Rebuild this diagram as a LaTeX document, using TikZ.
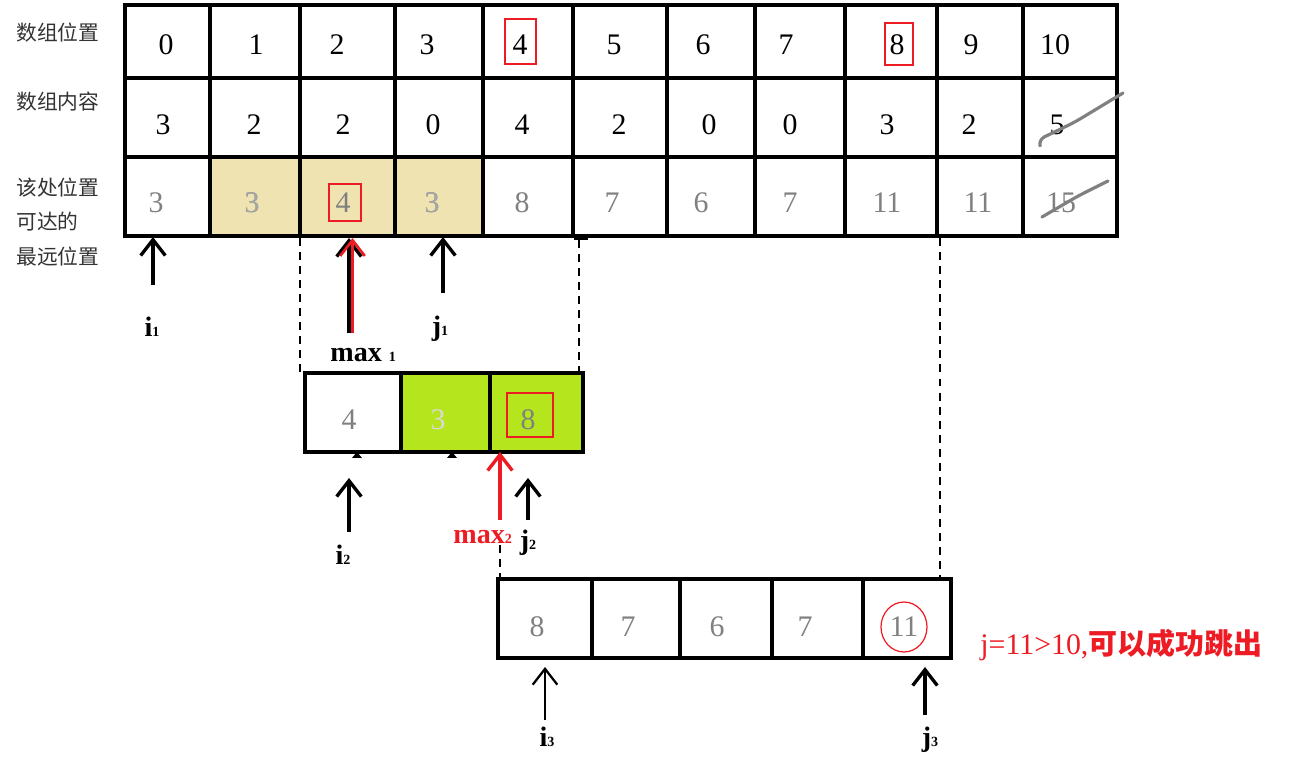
\documentclass[tikz,border=0pt]{standalone}
\usepackage{fontspec}
\setmainfont{Liberation Serif}
\newfontfamily\cjk{Noto Sans CJK SC}
\usetikzlibrary{arrows.meta,positioning}

\definecolor{markred}{HTML}{ED1C24}
\definecolor{sand}{HTML}{EFE3B1}
\definecolor{limefill}{HTML}{B5E61D}

\newcommand\ptrname[2]{\textbf{#1}{\fontsize{8}{8}\selectfont\bfseries #2}}

\tikzset{
	cell/.style={
			draw,
			line width=2.2pt,
		},
	num/.style={
			font=\fontsize{17}{17}\selectfont,
			inner sep=0pt,
		},
	reach/.style={
			num,
			text=black!50,
		},
	ghost/.style={
			num,
			text=black!35,
		},
	rowlab/.style={
			font=\cjk\fontsize{11.8}{12}\selectfont,
			text=black!80,
			anchor=west,
			inner sep=0pt,
		},
	ptrlab/.style={
			font=\fontsize{16}{16}\selectfont,
			inner sep=0pt,
		},
	ptr/.style={
			-{Straight Barb[length=9pt,width=14pt]},
			line width=1.9pt,
			shorten <=#1,
		},
	hit/.style={
			draw=markred,
			line width=1.6pt,
		},
	thinhit/.style={
			draw=markred,
			line width=0.6pt,
		},
	guide/.style={
			dash pattern=on 4.5pt off 3.5pt,
			line width=0.6pt,
		},
	strike/.style={
			draw=black!50,
			line width=1.8pt,
			line cap=round,
			rounded corners=4pt,
		},
}

\begin{document}
\begin{tikzpicture}[x=0.02cm, y=-0.02cm]
	\useasboundingbox (0,0) rectangle (1296,759);

	% row labels
	\node [rowlab] (lpos) at (16,33) {数组位置};
	\node [rowlab] (lval) at (16,102) {数组内容};
	\node [rowlab] (lfar) at (16,188) {该处位置};
	\node [rowlab] (lfar2) at (16,222) {可达的};
	\node [rowlab] (lfar3) at (16,257) {最远位置};

	% first table
	\fill [sand] (210,157) rectangle (483,236);
	\foreach \l/\r in {125/210,210/300,300/395,395/483,483/573,573/667,667/755,755/845,845/937,937/1023,1023/1117}
		\foreach \t/\b in {5/78,78/157,157/236}
			\draw [cell] (\l,\t) rectangle (\r,\b);
	\draw [line width=2.8pt] (125,5) rectangle (1117,236);
	\draw [line width=2.8pt] (937,5) -- (937,236);
	\draw [line width=2.8pt] (483,5) -- (483,236);

	\foreach \v/\x [count=\i from 0] in {0/166,1/256,2/337,3/427,4/520,5/614,6/703,7/786,8/897,9/971,10/1055}
		\node [num] (pos\i) at (\x,45) {\v};
	\foreach \v/\x [count=\i from 0] in {3/163,2/254,2/343,0/433,4/522,2/619,0/709,0/790,3/887,2/969,5/1057}
		\node [num] (val\i) at (\x,125) {\v};
	\foreach \v/\x [count=\i from 0] in {3/156,3/252,4/343,3/432,8/522,7/612,6/701,7/790,11/887,11/978,15/1061}
		\node [reach] (far\i) at (\x,203) {\v};
	\node [ghost] at (far1) {3};
	\node [ghost] at (far3) {3};

	\draw [thinhit] (pos4) +(-15,-26) rectangle +(16,19);
	\draw [thinhit] (pos8) +(-12,-22) rectangle +(16,20);
	\draw [hit] (far2) +(-14,-19) rectangle +(18,18);

	\draw [strike] (1040,146) -- (1038,140) -- (1075,122) -- (1123,93);
	\draw [strike] (1042,217) -- (1078,196) -- (1108,181);

	% first pointers
	\coordinate (i1tip) at (153,237);
	\coordinate (j1tip) at (443,237);
	\coordinate (m1tip) at (349,238);
	\node [ptrlab] (i1) at (152,327) {\ptrname{i}{1}};
	\node [ptrlab] (j1) at (440,329) {\ptrname{j}{1}};
	\node [ptrlab, anchor=west] (max1) at (330,355) {\textbf{max}\hspace{4pt}{\fontsize{8}{8}\selectfont\bfseries 1}};
	\draw [ptr=23.8pt] (i1tip |- i1) -- (i1tip);
	\draw [ptr=20.4pt] (j1tip |- j1) -- (j1tip);
	\draw [ptr=12.5pt] (m1tip |- max1) -- (m1tip);
	\draw [ptr=12.5pt, markred, line width=1.5pt] ([xshift=2pt]m1tip |- max1) -- ([xshift=2pt]m1tip);

	\draw [guide] (300,238) -- (300,372);
	\draw [guide] (579,240) -- (579,372);
	\draw [line width=1pt] (574,239) -- (588,239);
	\draw [guide] (940,238) -- (940,578);

	% second table
	\fill [limefill] (401,373) rectangle (583,452);
	\foreach \l/\r in {305/401,401/490,490/583}
		\draw [cell, line width=2.4pt] (\l,373) rectangle (\r,452);
	\node [reach] (sec0) at (349,420) {4};
	\node [ghost, text=white!85!black] (sec1) at (438,420) {3};
	\node [reach] (sec2) at (528,420) {8};
	\draw [hit] (sec2) +(-21,-27) rectangle +(25,17);
	\fill (357,452) -- ++(-5,6) -- ++(10,0) -- cycle;
	\fill (452,452) -- ++(-5,6) -- ++(10,0) -- cycle;

	\coordinate (i2tip) at (349,478);
	\coordinate (j2tip) at (528,478);
	\coordinate (m2tip) at (500,452);
	\node [ptrlab] (i2) at (343,555) {\ptrname{i}{2}};
	\node [ptrlab] (j2) at (528,543) {\ptrname{j}{2}};
	\node [ptrlab, anchor=west, text=markred] (max2) at (453,537) {\ptrname{max}{2}};
	\draw [ptr=13pt] (i2tip |- i2) -- (i2tip);
	\draw [ptr=13pt] (j2tip |- j2) -- (j2tip);
	\draw [ptr=9.6pt, markred] (m2tip |- max2) -- (m2tip);

	\draw [guide] (500,545) -- (500,578);

	% third table
	\foreach \l/\r in {498/592,592/680,680/772,772/863,863/951}
		\draw [cell, line width=2.4pt] (\l,579) rectangle (\r,658);
	\foreach \v/\x [count=\i from 0] in {8/537,7/628,6/717,7/805,11/904}
		\node [reach] (thr\i) at (\x,627) {\v};
	\draw [markred, line width=0.7pt] (thr4) ellipse [x radius=23, y radius=25];

	\coordinate (i3tip) at (545,667);
	\coordinate (j3tip) at (925,667);
	\node [ptrlab] (i3) at (547,737) {\ptrname{i}{3}};
	\node [ptrlab] (j3) at (930,740) {\ptrname{j}{3}};
	\draw [ptr=9.6pt, line width=1.3pt] (i3tip |- i3) -- (i3tip);
	\draw [ptr=14pt] (j3tip |- j3) -- (j3tip);

	\node [anchor=west, inner sep=0pt, text=markred] (jump) at (980,645)
		{\fontsize{17}{17}\selectfont j=11>10,{\cjk\bfseries\fontsize{16.5}{17}\selectfont 可以成功跳出}};

\end{tikzpicture}
\end{document}
